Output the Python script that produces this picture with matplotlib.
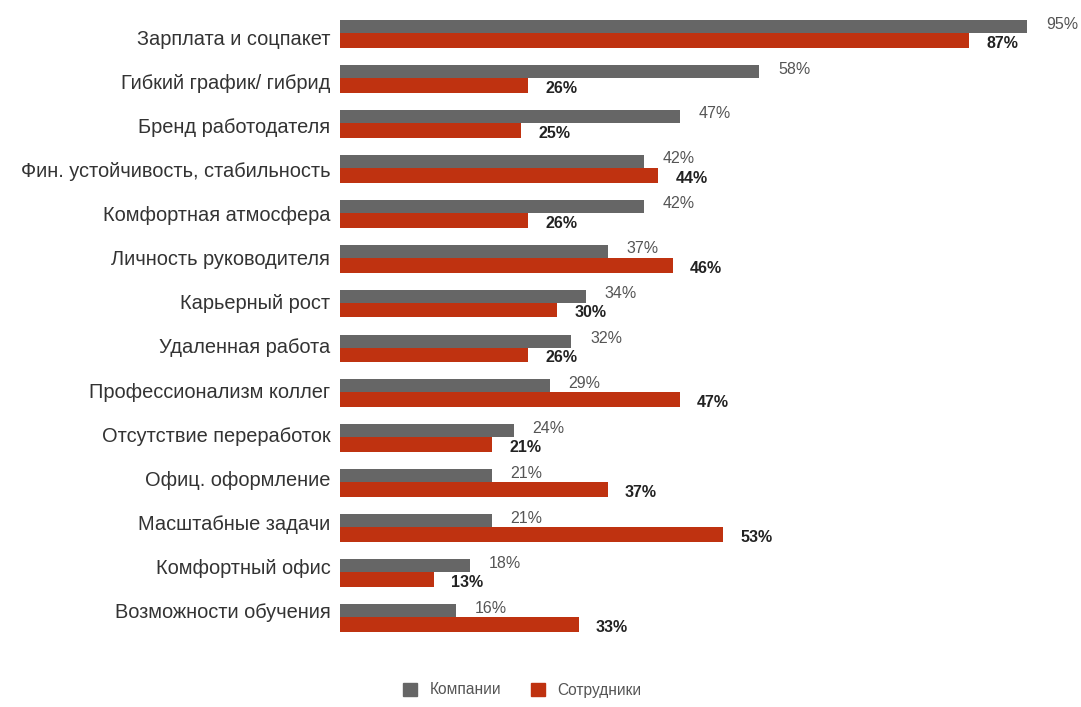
import matplotlib
matplotlib.use("Agg")
import matplotlib.pyplot as plt
import numpy as np

categories = [
    "Зарплата и соцпакет",
    "Гибкий график/ гибрид",
    "Бренд работодателя",
    "Фин. устойчивость, стабильность",
    "Комфортная атмосфера",
    "Личность руководителя",
    "Карьерный рост",
    "Удаленная работа",
    "Профессионализм коллег",
    "Отсутствие переработок",
    "Офиц. оформление",
    "Масштабные задачи",
    "Комфортный офис",
    "Возможности обучения",
]
companies = [95, 58, 47, 42, 42, 37, 34, 32, 29, 24, 21, 21, 18, 16]
employees = [87, 26, 25, 44, 26, 46, 30, 26, 47, 21, 37, 53, 13, 33]
legend_labels = ["Компании", "Сотрудники"]

gray = "#666666"
red = "#bf3210"
text_color = "#333333"

plt.rcParams["font.family"] = ["Liberation Sans", "DejaVu Sans"]

fig = plt.figure(figsize=(10.81, 7.07), dpi=100)
ax = fig.add_axes([0.3145, 0.0827, 0.669, 0.915])

y = np.arange(len(categories))
ax.barh(y - 0.145, companies, height=0.29, color=gray, label=legend_labels[0])
ax.barh(y + 0.165, employees, height=0.33, color=red, label=legend_labels[1])

for i in range(len(categories)):
    ax.text(companies[i] + 2.6, y[i] - 0.2, f"{companies[i]}%",
            va="center", ha="left", fontsize=11.5, color="#555555")
    ax.text(employees[i] + 2.4, y[i] + 0.23, f"{employees[i]}%",
            va="center", ha="left", fontsize=11.5, fontweight="bold", color="#222222")

ax.set_xlim(0, 100)
ax.set_ylim(len(categories) - 0.3, -0.7)
# labels sit on a slightly tighter pitch than the bars
ax.set_yticks(y * 0.982 + 0.09)
ax.set_yticklabels(categories, fontsize=14.4, color=text_color)
ax.tick_params(axis="y", length=0, pad=7)
ax.set_xticks([])
for s in ax.spines.values():
    s.set_visible(False)

handles = [plt.Rectangle((0, 0), 1, 1, color=gray), plt.Rectangle((0, 0), 1, 1, color=red)]
fig.legend(handles, legend_labels, loc="center", bbox_to_anchor=(522 / 1081, 1 - 690 / 707),
           ncol=2, frameon=False, fontsize=11.2, handlelength=0.9, handleheight=0.9,
           columnspacing=1.9, handletextpad=0.8, labelcolor="#555555")

fig.savefig("out.png", dpi=100)
